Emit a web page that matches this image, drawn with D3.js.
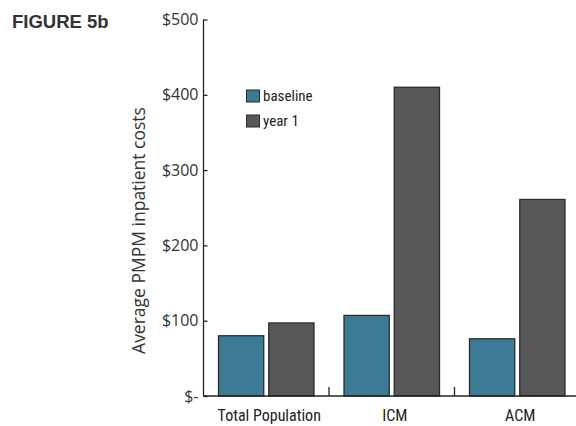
<!DOCTYPE html>
<html><head><meta charset="utf-8">
<script src="https://cdn.jsdelivr.net/npm/d3@7"></script>
<style>
body{margin:0;background:#fff;}
</style></head>
<body><svg id="c" width="576" height="426"></svg>
<script>
const categories = ["Total Population","ICM","ACM"];
const seriesNames = ["baseline","year 1"];
const baseline = [80,107,76];
const year1 = [97,410,261];
const yTicks = [0,100,200,300,400,500];
const yTickLabels = ["$-","$100","$200","$300","$400","$500"];
const colors = ["#3c7b96","#58585a"];

const NARROW = '"Liberation Sans Narrow","Roboto Condensed","Liberation Sans",sans-serif';
const REG = '"Open Sans","Liberation Sans",sans-serif';

const svg = d3.select("#c");
const x0 = 203.5, x1 = 580, yb = 396, yt = 19.5;
const x = d3.scaleBand().domain(categories).range([x0,x1]).paddingInner(0).paddingOuter(0);
const xs = d3.scaleBand().domain(seriesNames).range([15, x.bandwidth()-15]).paddingInner(0.1);
const y = d3.scaleLinear().domain([0,500]).range([yb,yt]);

svg.append("text").attr("x",12).attr("y",28).style("font-size","18.5px").style("font-weight","bold")
  .style("font-family",'"Liberation Sans",sans-serif').attr("fill","#333").text("FIGURE 5b");

// bars
const data = categories.map((c,i)=>({c, vals:[baseline[i],year1[i]]}));
const g = svg.append("g");
data.forEach(d=>{
  d.vals.forEach((v,j)=>{
    g.append("rect").attr("x",x(d.c)+xs(seriesNames[j])).attr("y",y(v))
      .attr("width",xs.bandwidth()).attr("height",y(0)-y(v))
      .attr("fill",colors[j]).attr("stroke","#2b2b2b").attr("stroke-width",1.3);
  });
});

// y axis
const yAxis = d3.axisLeft(y).tickValues(yTicks).tickFormat((d,i)=>yTickLabels[i]).tickSize(-4).tickPadding(6);
const ya = svg.append("g").attr("transform",`translate(${x0},0)`).call(yAxis);
ya.select(".domain").attr("d",`M0,${yt}V${yb}`).attr("stroke","#222").attr("stroke-width",1.3);
ya.selectAll(".tick line").attr("stroke","#222").attr("stroke-width",1.3);
ya.selectAll(".tick text").style("font-size","16px").attr("fill","#333")
  .style("font-family",REG).attr("x",-5);

// x axis
const xAxis = d3.axisBottom(x).tickSize(0).tickPadding(14);
const xa = svg.append("g").attr("transform",`translate(0,${yb})`).call(xAxis);
xa.select(".domain").attr("d",`M${x0},0H${x1}`).attr("stroke","#222").attr("stroke-width",1.3);
xa.selectAll(".tick text").style("font-size","16px").attr("fill","#222")
  .style("font-family",NARROW).attr("dx",3);
// category separators
categories.slice(1).forEach(c=>{
  svg.append("line").attr("x1",x(c)).attr("x2",x(c)).attr("y1",yb).attr("y2",yb-9)
    .attr("stroke","#222").attr("stroke-width",1.3);
});

// y label
svg.append("text").attr("transform",`translate(144.5,230.5) rotate(-90)`).attr("text-anchor","middle")
  .style("font-size","17.5px").attr("fill","#333").style("font-family",REG)
  .text("Average PMPM inpatient costs");

// legend
const lg = svg.append("g");
seriesNames.forEach((s,i)=>{
  const yy = 90 + i*25;
  lg.append("rect").attr("x",246.5).attr("y",yy).attr("width",13).attr("height",12)
    .attr("fill",colors[i]).attr("stroke","#2b2b2b").attr("stroke-width",1);
  lg.append("text").attr("x",263).attr("y",yy+11).style("font-size","15px").attr("fill","#222")
    .style("font-family",NARROW).text(s);
});
</script></body></html>
